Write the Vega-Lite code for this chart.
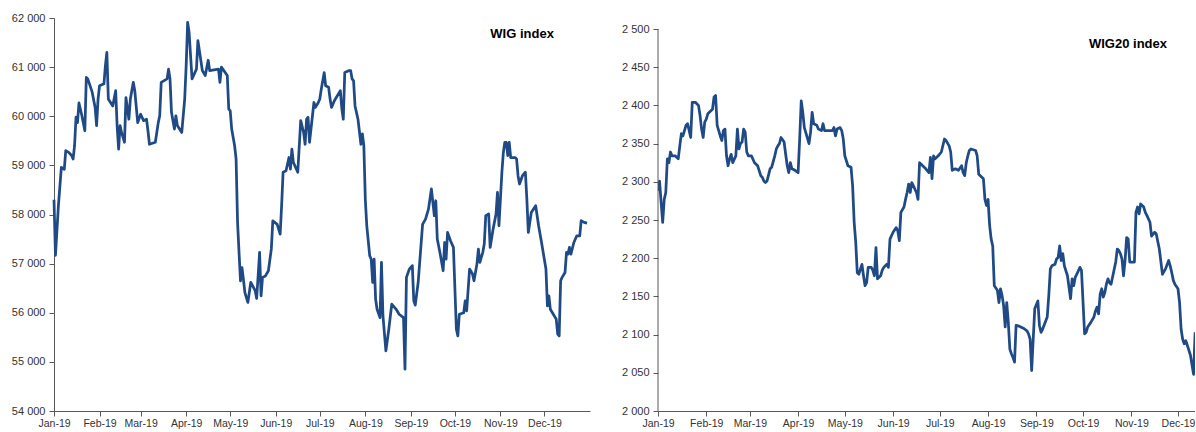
{
  "$schema": "https://vega.github.io/schema/vega-lite/v6.json",
  "padding": {"left": 11, "top": 12, "right": 0, "bottom": 0},
  "background": "white",
  "config": {
    "view": {"stroke": null},
    "concat": {"spacing": 31},
    "axis": {
      "grid": false,
      "domainColor": "#595959",
      "tickColor": "#595959",
      "labelColor": "#333333",
      "labelFont": "Liberation Sans",
      "tickSize": 5,
      "title": null
    },
    "axisX": {"labelFontSize": 10.5, "labelPadding": 2, "labelOverlap": false, "labelFlush": false},
    "axisY": {"labelFontSize": 11, "labelPadding": 4, "labelOverlap": false}
  },
  "datasets": {
    "wig": [
      {"date":"2019-01-01","value":58300},{"date":"2019-01-02","value":57170},{"date":"2019-01-04","value":58180},{"date":"2019-01-06","value":58960},{"date":"2019-01-08","value":58920},{"date":"2019-01-09","value":59300},{"date":"2019-01-11","value":59265},{"date":"2019-01-13","value":59200},{"date":"2019-01-14","value":59130},{"date":"2019-01-15","value":59400},{"date":"2019-01-16","value":59980},{"date":"2019-01-17","value":59870},{"date":"2019-01-18","value":60270},{"date":"2019-01-20","value":60010},{"date":"2019-01-22","value":59705},{"date":"2019-01-23","value":60790},{"date":"2019-01-24","value":60760},{"date":"2019-01-27","value":60490},{"date":"2019-01-29","value":60180},{"date":"2019-01-30","value":59810},{"date":"2019-01-31","value":60350},
      {"date":"2019-02-01","value":60620},{"date":"2019-02-04","value":60660},{"date":"2019-02-05","value":61030},{"date":"2019-02-06","value":61300},{"date":"2019-02-07","value":60350},{"date":"2019-02-10","value":60210},{"date":"2019-02-12","value":60520},{"date":"2019-02-13","value":59800},{"date":"2019-02-14","value":59330},{"date":"2019-02-15","value":59810},{"date":"2019-02-16","value":59670},{"date":"2019-02-18","value":59470},{"date":"2019-02-19","value":60380},{"date":"2019-02-21","value":59940},{"date":"2019-02-22","value":60350},{"date":"2019-02-24","value":60690},{"date":"2019-02-25","value":60520},{"date":"2019-02-27","value":59870},
      {"date":"2019-03-01","value":60040},{"date":"2019-03-03","value":59910},{"date":"2019-03-05","value":59940},{"date":"2019-03-06","value":59700},{"date":"2019-03-07","value":59430},{"date":"2019-03-11","value":59470},{"date":"2019-03-13","value":59870},{"date":"2019-03-14","value":60010},{"date":"2019-03-15","value":60690},{"date":"2019-03-19","value":60760},{"date":"2019-03-20","value":60960},{"date":"2019-03-21","value":60760},{"date":"2019-03-22","value":60080},{"date":"2019-03-24","value":59740},{"date":"2019-03-25","value":60010},{"date":"2019-03-26","value":59810},{"date":"2019-03-29","value":59670},{"date":"2019-03-31","value":60350},
      {"date":"2019-04-01","value":61030},{"date":"2019-04-02","value":61910},{"date":"2019-04-03","value":61710},{"date":"2019-04-05","value":60760},{"date":"2019-04-08","value":60960},{"date":"2019-04-09","value":61540},{"date":"2019-04-12","value":60930},{"date":"2019-04-14","value":60830},{"date":"2019-04-16","value":61140},{"date":"2019-04-17","value":60930},{"date":"2019-04-23","value":60960},{"date":"2019-04-24","value":60690},{"date":"2019-04-25","value":61000},{"date":"2019-04-29","value":60830},{"date":"2019-04-30","value":60150},
      {"date":"2019-05-01","value":60110},{"date":"2019-05-02","value":59740},{"date":"2019-05-04","value":59400},{"date":"2019-05-05","value":59130},{"date":"2019-05-06","value":57840},{"date":"2019-05-07","value":57230},{"date":"2019-05-08","value":56650},{"date":"2019-05-09","value":56920},{"date":"2019-05-10","value":56680},{"date":"2019-05-11","value":56410},{"date":"2019-05-13","value":56210},{"date":"2019-05-15","value":56620},{"date":"2019-05-18","value":56450},{"date":"2019-05-19","value":56290},{"date":"2019-05-20","value":56750},{"date":"2019-05-21","value":57230},{"date":"2019-05-22","value":56345},{"date":"2019-05-23","value":56720},{"date":"2019-05-25","value":56750},{"date":"2019-05-27","value":56855},{"date":"2019-05-29","value":57300},{"date":"2019-05-30","value":57870},
      {"date":"2019-06-02","value":57800},{"date":"2019-06-04","value":57600},{"date":"2019-06-05","value":58180},{"date":"2019-06-06","value":58860},{"date":"2019-06-08","value":58890},{"date":"2019-06-10","value":59160},{"date":"2019-06-11","value":58925},{"date":"2019-06-12","value":59330},{"date":"2019-06-13","value":59060},{"date":"2019-06-15","value":58925},{"date":"2019-06-16","value":58860},{"date":"2019-06-18","value":59910},{"date":"2019-06-20","value":59670},{"date":"2019-06-21","value":59430},{"date":"2019-06-22","value":59940},{"date":"2019-06-23","value":59980},{"date":"2019-06-24","value":59470},{"date":"2019-06-26","value":60010},{"date":"2019-06-27","value":60280},{"date":"2019-06-28","value":60180},{"date":"2019-06-30","value":60280},
      {"date":"2019-07-01","value":60350},{"date":"2019-07-02","value":60550},{"date":"2019-07-04","value":60890},{"date":"2019-07-05","value":60620},{"date":"2019-07-07","value":60590},{"date":"2019-07-08","value":60350},{"date":"2019-07-09","value":60180},{"date":"2019-07-11","value":60320},{"date":"2019-07-15","value":60520},{"date":"2019-07-16","value":60150},{"date":"2019-07-17","value":59940},{"date":"2019-07-18","value":60890},{"date":"2019-07-21","value":60930},{"date":"2019-07-22","value":60930},{"date":"2019-07-23","value":60760},{"date":"2019-07-24","value":60720},{"date":"2019-07-25","value":60210},{"date":"2019-07-27","value":59940},{"date":"2019-07-29","value":59430},{"date":"2019-07-30","value":59640},{"date":"2019-07-31","value":59400},
      {"date":"2019-08-01","value":58300},{"date":"2019-08-02","value":57770},{"date":"2019-08-04","value":57160},{"date":"2019-08-05","value":57090},{"date":"2019-08-06","value":56620},{"date":"2019-08-07","value":57090},{"date":"2019-08-08","value":56280},{"date":"2019-08-09","value":56070},{"date":"2019-08-11","value":55900},{"date":"2019-08-12","value":57025},{"date":"2019-08-13","value":55940},{"date":"2019-08-15","value":55225},{"date":"2019-08-17","value":55665},{"date":"2019-08-19","value":56175},{"date":"2019-08-22","value":56070},{"date":"2019-08-24","value":55970},{"date":"2019-08-27","value":55900},{"date":"2019-08-28","value":54850},{"date":"2019-08-29","value":56720},{"date":"2019-08-31","value":56890},
      {"date":"2019-09-02","value":56960},{"date":"2019-09-03","value":56243},{"date":"2019-09-04","value":56155},{"date":"2019-09-06","value":56620},{"date":"2019-09-09","value":57800},{"date":"2019-09-11","value":57907},{"date":"2019-09-13","value":58110},{"date":"2019-09-15","value":58520},{"date":"2019-09-17","value":57975},{"date":"2019-09-18","value":58280},{"date":"2019-09-19","value":57500},{"date":"2019-09-21","value":57194},{"date":"2019-09-23","value":56855},{"date":"2019-09-24","value":57430},{"date":"2019-09-25","value":57090},{"date":"2019-09-26","value":57635},{"date":"2019-09-28","value":57465},{"date":"2019-09-30","value":57330},
      {"date":"2019-10-02","value":55665},{"date":"2019-10-03","value":55530},{"date":"2019-10-04","value":55970},{"date":"2019-10-07","value":56000},{"date":"2019-10-08","value":56243},{"date":"2019-10-09","value":56040},{"date":"2019-10-11","value":56890},{"date":"2019-10-13","value":56790},{"date":"2019-10-14","value":56650},{"date":"2019-10-16","value":56990},{"date":"2019-10-17","value":57295},{"date":"2019-10-18","value":57025},{"date":"2019-10-20","value":57230},{"date":"2019-10-21","value":57400},{"date":"2019-10-22","value":57975},{"date":"2019-10-24","value":58010},{"date":"2019-10-25","value":57330},{"date":"2019-10-27","value":57700},{"date":"2019-10-29","value":58010},{"date":"2019-10-30","value":58450},{"date":"2019-10-31","value":57770},
      {"date":"2019-11-02","value":58860},{"date":"2019-11-03","value":59265},{"date":"2019-11-04","value":59470},{"date":"2019-11-05","value":59470},{"date":"2019-11-06","value":59200},{"date":"2019-11-07","value":59470},{"date":"2019-11-08","value":59160},{"date":"2019-11-11","value":59160},{"date":"2019-11-12","value":59130},{"date":"2019-11-13","value":58790},{"date":"2019-11-14","value":58620},{"date":"2019-11-16","value":58790},{"date":"2019-11-18","value":58860},{"date":"2019-11-19","value":58310},{"date":"2019-11-20","value":57635},{"date":"2019-11-22","value":58040},{"date":"2019-11-25","value":58178},{"date":"2019-11-27","value":57770},{"date":"2019-11-29","value":57430},
      {"date":"2019-12-02","value":56890},{"date":"2019-12-03","value":56140},{"date":"2019-12-04","value":56345},{"date":"2019-12-05","value":56070},{"date":"2019-12-07","value":55970},{"date":"2019-12-09","value":55870},{"date":"2019-12-10","value":55565},{"date":"2019-12-11","value":55530},{"date":"2019-12-12","value":56650},{"date":"2019-12-13","value":56720},{"date":"2019-12-15","value":56820},{"date":"2019-12-16","value":57230},{"date":"2019-12-17","value":57194},{"date":"2019-12-18","value":57330},{"date":"2019-12-19","value":57194},{"date":"2019-12-21","value":57430},{"date":"2019-12-23","value":57567},{"date":"2019-12-25","value":57567},{"date":"2019-12-26","value":57873},{"date":"2019-12-28","value":57840},{"date":"2019-12-30","value":57825}
    ],
    "wig20": [
      {"date":"2019-01-01","value":2288},{"date":"2019-01-02","value":2301},{"date":"2019-01-03","value":2273},{"date":"2019-01-04","value":2247},{"date":"2019-01-05","value":2277},{"date":"2019-01-06","value":2286},{"date":"2019-01-07","value":2330},{"date":"2019-01-08","value":2325},{"date":"2019-01-09","value":2339},{"date":"2019-01-10","value":2334},{"date":"2019-01-12","value":2334},{"date":"2019-01-14","value":2330},{"date":"2019-01-15","value":2347},{"date":"2019-01-16","value":2363},{"date":"2019-01-17","value":2360},{"date":"2019-01-18","value":2367},{"date":"2019-01-19","value":2374},{"date":"2019-01-20","value":2376},{"date":"2019-01-22","value":2358},{"date":"2019-01-23","value":2404},{"date":"2019-01-25","value":2404},{"date":"2019-01-27","value":2400},{"date":"2019-01-28","value":2387},{"date":"2019-01-29","value":2369},{"date":"2019-01-30","value":2358},{"date":"2019-01-31","value":2378},
      {"date":"2019-02-01","value":2382},{"date":"2019-02-02","value":2389},{"date":"2019-02-03","value":2391},{"date":"2019-02-05","value":2395},{"date":"2019-02-06","value":2411},{"date":"2019-02-07","value":2413},{"date":"2019-02-08","value":2374},{"date":"2019-02-09","value":2367},{"date":"2019-02-10","value":2360},{"date":"2019-02-11","value":2354},{"date":"2019-02-12","value":2367},{"date":"2019-02-13","value":2369},{"date":"2019-02-14","value":2334},{"date":"2019-02-15","value":2321},{"date":"2019-02-16","value":2330},{"date":"2019-02-17","value":2336},{"date":"2019-02-18","value":2325},{"date":"2019-02-20","value":2334},{"date":"2019-02-21","value":2369},{"date":"2019-02-22","value":2343},{"date":"2019-02-23","value":2350},{"date":"2019-02-24","value":2352},{"date":"2019-02-25","value":2369},{"date":"2019-02-26","value":2365},{"date":"2019-02-27","value":2339},{"date":"2019-02-28","value":2334},
      {"date":"2019-03-02","value":2334},{"date":"2019-03-04","value":2325},{"date":"2019-03-06","value":2321},{"date":"2019-03-08","value":2308},{"date":"2019-03-09","value":2306},{"date":"2019-03-10","value":2301},{"date":"2019-03-11","value":2299},{"date":"2019-03-12","value":2301},{"date":"2019-03-14","value":2317},{"date":"2019-03-15","value":2319},{"date":"2019-03-17","value":2334},{"date":"2019-03-18","value":2343},{"date":"2019-03-19","value":2347},{"date":"2019-03-20","value":2350},{"date":"2019-03-21","value":2358},{"date":"2019-03-23","value":2352},{"date":"2019-03-24","value":2336},{"date":"2019-03-25","value":2321},{"date":"2019-03-26","value":2312},{"date":"2019-03-27","value":2325},{"date":"2019-03-28","value":2317},{"date":"2019-03-30","value":2315},
      {"date":"2019-04-01","value":2312},{"date":"2019-04-02","value":2356},{"date":"2019-04-03","value":2406},{"date":"2019-04-04","value":2391},{"date":"2019-04-05","value":2371},{"date":"2019-04-08","value":2350},{"date":"2019-04-09","value":2365},{"date":"2019-04-10","value":2391},{"date":"2019-04-11","value":2376},{"date":"2019-04-13","value":2374},{"date":"2019-04-14","value":2369},{"date":"2019-04-16","value":2367},{"date":"2019-04-17","value":2376},{"date":"2019-04-18","value":2367},{"date":"2019-04-23","value":2367},{"date":"2019-04-24","value":2371},{"date":"2019-04-25","value":2360},{"date":"2019-04-26","value":2369},{"date":"2019-04-28","value":2371},{"date":"2019-04-29","value":2367},{"date":"2019-04-30","value":2356},
      {"date":"2019-05-01","value":2334},{"date":"2019-05-03","value":2321},{"date":"2019-05-05","value":2319},{"date":"2019-05-06","value":2295},{"date":"2019-05-07","value":2247},{"date":"2019-05-08","value":2221},{"date":"2019-05-09","value":2181},{"date":"2019-05-10","value":2179},{"date":"2019-05-12","value":2192},{"date":"2019-05-13","value":2177},{"date":"2019-05-14","value":2164},{"date":"2019-05-15","value":2168},{"date":"2019-05-16","value":2188},{"date":"2019-05-18","value":2188},{"date":"2019-05-19","value":2184},{"date":"2019-05-20","value":2177},{"date":"2019-05-21","value":2214},{"date":"2019-05-22","value":2173},{"date":"2019-05-24","value":2177},{"date":"2019-05-25","value":2184},{"date":"2019-05-26","value":2188},{"date":"2019-05-28","value":2192},{"date":"2019-05-29","value":2188},{"date":"2019-05-30","value":2225},
      {"date":"2019-06-01","value":2234},{"date":"2019-06-03","value":2240},{"date":"2019-06-04","value":2236},{"date":"2019-06-05","value":2223},{"date":"2019-06-06","value":2260},{"date":"2019-06-08","value":2267},{"date":"2019-06-09","value":2277},{"date":"2019-06-10","value":2286},{"date":"2019-06-11","value":2297},{"date":"2019-06-12","value":2286},{"date":"2019-06-13","value":2299},{"date":"2019-06-14","value":2295},{"date":"2019-06-16","value":2286},{"date":"2019-06-17","value":2277},{"date":"2019-06-18","value":2325},{"date":"2019-06-20","value":2321},{"date":"2019-06-22","value":2317},{"date":"2019-06-24","value":2312},{"date":"2019-06-25","value":2332},{"date":"2019-06-26","value":2304},{"date":"2019-06-27","value":2334},{"date":"2019-06-28","value":2330},{"date":"2019-06-30","value":2334},
      {"date":"2019-07-02","value":2339},{"date":"2019-07-04","value":2356},{"date":"2019-07-05","value":2354},{"date":"2019-07-07","value":2347},{"date":"2019-07-08","value":2339},{"date":"2019-07-09","value":2315},{"date":"2019-07-11","value":2317},{"date":"2019-07-13","value":2315},{"date":"2019-07-15","value":2321},{"date":"2019-07-16","value":2312},{"date":"2019-07-17","value":2308},{"date":"2019-07-18","value":2325},{"date":"2019-07-19","value":2334},{"date":"2019-07-20","value":2341},{"date":"2019-07-21","value":2343},{"date":"2019-07-24","value":2341},{"date":"2019-07-25","value":2334},{"date":"2019-07-26","value":2310},{"date":"2019-07-28","value":2306},{"date":"2019-07-29","value":2304},{"date":"2019-07-30","value":2277},{"date":"2019-07-31","value":2269},
      {"date":"2019-08-01","value":2277},{"date":"2019-08-02","value":2243},{"date":"2019-08-03","value":2225},{"date":"2019-08-04","value":2216},{"date":"2019-08-05","value":2164},{"date":"2019-08-07","value":2158},{"date":"2019-08-08","value":2142},{"date":"2019-08-09","value":2160},{"date":"2019-08-10","value":2151},{"date":"2019-08-11","value":2138},{"date":"2019-08-12","value":2110},{"date":"2019-08-13","value":2142},{"date":"2019-08-14","value":2116},{"date":"2019-08-15","value":2081},{"date":"2019-08-16","value":2075},{"date":"2019-08-17","value":2070},{"date":"2019-08-18","value":2064},{"date":"2019-08-19","value":2112},{"date":"2019-08-21","value":2111},{"date":"2019-08-24","value":2108},{"date":"2019-08-26","value":2105},{"date":"2019-08-27","value":2101},{"date":"2019-08-28","value":2094},{"date":"2019-08-29","value":2053},{"date":"2019-08-30","value":2094},{"date":"2019-08-31","value":2134},
      {"date":"2019-09-02","value":2144},{"date":"2019-09-03","value":2112},{"date":"2019-09-04","value":2103},{"date":"2019-09-05","value":2107},{"date":"2019-09-08","value":2123},{"date":"2019-09-09","value":2151},{"date":"2019-09-10","value":2186},{"date":"2019-09-11","value":2190},{"date":"2019-09-13","value":2192},{"date":"2019-09-14","value":2199},{"date":"2019-09-15","value":2201},{"date":"2019-09-16","value":2216},{"date":"2019-09-17","value":2197},{"date":"2019-09-18","value":2206},{"date":"2019-09-19","value":2190},{"date":"2019-09-21","value":2177},{"date":"2019-09-23","value":2147},{"date":"2019-09-24","value":2173},{"date":"2019-09-25","value":2164},{"date":"2019-09-26","value":2175},{"date":"2019-09-27","value":2179},{"date":"2019-09-29","value":2188},{"date":"2019-09-30","value":2184},
      {"date":"2019-10-02","value":2101},{"date":"2019-10-03","value":2103},{"date":"2019-10-04","value":2110},{"date":"2019-10-06","value":2116},{"date":"2019-10-08","value":2123},{"date":"2019-10-09","value":2131},{"date":"2019-10-10","value":2136},{"date":"2019-10-11","value":2127},{"date":"2019-10-12","value":2153},{"date":"2019-10-13","value":2160},{"date":"2019-10-14","value":2149},{"date":"2019-10-15","value":2155},{"date":"2019-10-16","value":2166},{"date":"2019-10-17","value":2173},{"date":"2019-10-18","value":2168},{"date":"2019-10-19","value":2166},{"date":"2019-10-22","value":2195},{"date":"2019-10-23","value":2212},{"date":"2019-10-24","value":2210},{"date":"2019-10-25","value":2206},{"date":"2019-10-26","value":2199},{"date":"2019-10-27","value":2177},{"date":"2019-10-28","value":2197},{"date":"2019-10-29","value":2227},{"date":"2019-10-30","value":2225},{"date":"2019-10-31","value":2195},
      {"date":"2019-11-03","value":2195},{"date":"2019-11-04","value":2260},{"date":"2019-11-05","value":2267},{"date":"2019-11-06","value":2258},{"date":"2019-11-07","value":2271},{"date":"2019-11-09","value":2267},{"date":"2019-11-10","value":2260},{"date":"2019-11-11","value":2256},{"date":"2019-11-13","value":2247},{"date":"2019-11-14","value":2229},{"date":"2019-11-16","value":2234},{"date":"2019-11-17","value":2232},{"date":"2019-11-19","value":2212},{"date":"2019-11-21","value":2179},{"date":"2019-11-23","value":2186},{"date":"2019-11-25","value":2197},{"date":"2019-11-26","value":2190},{"date":"2019-11-27","value":2181},{"date":"2019-11-28","value":2171},{"date":"2019-11-29","value":2166},
      {"date":"2019-12-01","value":2160},{"date":"2019-12-02","value":2142},{"date":"2019-12-03","value":2107},{"date":"2019-12-04","value":2094},{"date":"2019-12-05","value":2088},{"date":"2019-12-06","value":2092},{"date":"2019-12-07","value":2086},{"date":"2019-12-09","value":2073},{"date":"2019-12-10","value":2060},{"date":"2019-12-11","value":2048},{"date":"2019-12-12","value":2103}
    ],
    "labels": [
      {"panel": "WIG", "label": "WIG index"},
      {"panel": "WIG20", "label": "WIG20 index"}
    ]
  },
  "hconcat": [
    {
      "width": 536,
      "height": 393,
      "layer": [
        {
          "data": {"name": "wig"},
          "mark": {"type": "line", "color": "#1f4a86", "strokeWidth": 2.75, "strokeJoin": "round"},
          "encoding": {
            "x": {
              "field": "date", "type": "temporal",
              "scale": {"domain": [{"year": 2019, "month": 1, "date": 1}, {"year": 2020, "month": 1, "date": 1}]},
              "axis": {
                "format": "%b-%y",
                "values": [
                  {"year": 2019, "month": 1, "date": 1}, {"year": 2019, "month": 2, "date": 1}, {"year": 2019, "month": 3, "date": 1},
                  {"year": 2019, "month": 4, "date": 1}, {"year": 2019, "month": 5, "date": 1}, {"year": 2019, "month": 6, "date": 1},
                  {"year": 2019, "month": 7, "date": 1}, {"year": 2019, "month": 8, "date": 1}, {"year": 2019, "month": 9, "date": 1},
                  {"year": 2019, "month": 10, "date": 1}, {"year": 2019, "month": 11, "date": 1}, {"year": 2019, "month": 12, "date": 1}
                ]
              }
            },
            "y": {
              "field": "value", "type": "quantitative",
              "scale": {"domain": [54000, 62000], "nice": false, "zero": false},
              "axis": {
                "values": [54000, 55000, 56000, 57000, 58000, 59000, 60000, 61000, 62000],
                "labelOverlap": false,
                "labelExpr": "replace(format(datum.value, ','), ',', ' ')"
              }
            }
          }
        },
        {
          "data": {"name": "labels"},
          "transform": [{"filter": "datum.panel === 'WIG'"}],
          "mark": {"type": "text", "font": "Liberation Sans", "fontSize": 13, "fontWeight": "bold", "color": "#000000", "align": "center", "baseline": "middle"},
          "encoding": {
            "x": {"datum": {"year": 2019, "month": 11, "date": 15, "hours": 18}, "type": "temporal"},
            "y": {"datum": 61680, "type": "quantitative"},
            "text": {"field": "label"}
          }
        }
      ]
    },
    {
      "width": 537,
      "height": 393,
      "layer": [
        {
          "data": {"name": "wig20"},
          "mark": {"type": "line", "color": "#1f4a86", "strokeWidth": 2.75, "strokeJoin": "round", "clip": true},
          "encoding": {
            "x": {
              "field": "date", "type": "temporal",
              "scale": {"domain": [{"year": 2019, "month": 1, "date": 1}, {"year": 2019, "month": 12, "date": 11, "hours": 22}]},
              "axis": {
                "format": "%b-%y",
                "values": [
                  {"year": 2019, "month": 1, "date": 1}, {"year": 2019, "month": 2, "date": 1}, {"year": 2019, "month": 3, "date": 1},
                  {"year": 2019, "month": 4, "date": 1}, {"year": 2019, "month": 5, "date": 1}, {"year": 2019, "month": 6, "date": 1},
                  {"year": 2019, "month": 7, "date": 1}, {"year": 2019, "month": 8, "date": 1}, {"year": 2019, "month": 9, "date": 1},
                  {"year": 2019, "month": 10, "date": 1}, {"year": 2019, "month": 11, "date": 1}, {"year": 2019, "month": 12, "date": 1}
                ]
              }
            },
            "y": {
              "field": "value", "type": "quantitative",
              "scale": {"domain": [2000, 2514.4], "nice": false, "zero": false},
              "axis": {
                "domain": false,
                "values": [2000, 2050, 2100, 2150, 2200, 2250, 2300, 2350, 2400, 2450, 2500],
                "labelOverlap": false,
                "labelExpr": "replace(format(datum.value, ','), ',', ' ')"
              }
            }
          }
        },
        {
          "data": {"values": [{"from": 2000, "to": 2500}]},
          "mark": {"type": "rule", "color": "#595959", "strokeWidth": 1},
          "encoding": {
            "x": {"datum": {"year": 2019, "month": 1, "date": 1}, "type": "temporal"},
            "y": {
              "field": "from", "type": "quantitative",
              "axis": {
                "domain": false,
                "values": [2000, 2050, 2100, 2150, 2200, 2250, 2300, 2350, 2400, 2450, 2500],
                "labelOverlap": false,
                "labelExpr": "replace(format(datum.value, ','), ',', ' ')"
              }
            },
            "y2": {"field": "to"}
          }
        },
        {
          "data": {"name": "labels"},
          "transform": [{"filter": "datum.panel === 'WIG20'"}],
          "mark": {"type": "text", "font": "Liberation Sans", "fontSize": 13, "fontWeight": "bold", "color": "#000000", "align": "center", "baseline": "middle"},
          "encoding": {
            "x": {"datum": {"year": 2019, "month": 10, "date": 29, "hours": 21}, "type": "temporal"},
            "y": {
              "datum": 2480.4, "type": "quantitative",
              "axis": {
                "domain": false,
                "values": [2000, 2050, 2100, 2150, 2200, 2250, 2300, 2350, 2400, 2450, 2500],
                "labelOverlap": false,
                "labelExpr": "replace(format(datum.value, ','), ',', ' ')"
              }
            },
            "text": {"field": "label"}
          }
        }
      ]
    }
  ]
}
